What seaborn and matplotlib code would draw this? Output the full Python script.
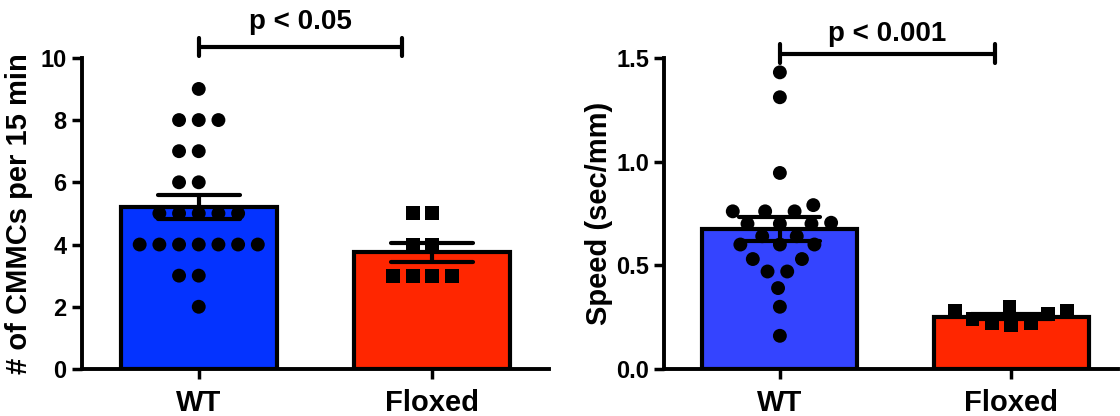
import numpy as np
import pandas as pd
import matplotlib
matplotlib.use('Agg')
import matplotlib.pyplot as plt
import seaborn as sns

# values
groups = ['WT', 'Floxed']
wt_cmmc = [9, 8, 8, 8, 7, 7, 6, 6, 5, 5, 5, 5, 5, 4, 4, 4, 4, 4, 4, 4, 3, 3, 2]
flox_cmmc = [5, 5, 4, 4, 3, 3, 3, 3]
wt_speed = [1.43, 1.31, 0.945, 0.79, 0.76, 0.76, 0.76, 0.705, 0.70, 0.70, 0.70,
            0.64, 0.64, 0.60, 0.60, 0.60, 0.53, 0.53, 0.47, 0.47, 0.39, 0.30, 0.16]
flox_speed = [0.30, 0.28, 0.28, 0.265, 0.24, 0.22, 0.22, 0.21]
p_labels = ['p < 0.05', 'p < 0.001']

sns.set_style('ticks', {'axes.edgecolor': 'black', 'xtick.color': 'black',
                        'ytick.color': 'black', 'text.color': 'black',
                        'axes.labelcolor': 'black'})
plt.rcParams['font.family'] = ['Liberation Sans', 'DejaVu Sans']
plt.rcParams['font.weight'] = 'bold'
plt.rcParams['axes.labelweight'] = 'bold'

df1 = pd.DataFrame({'group': ['WT'] * len(wt_cmmc) + ['Floxed'] * len(flox_cmmc),
                    'value': wt_cmmc + flox_cmmc})
df2 = pd.DataFrame({'group': ['WT'] * len(wt_speed) + ['Floxed'] * len(flox_speed),
                    'value': wt_speed + flox_speed})

fig = plt.figure(figsize=(11.2, 4.16), dpi=100)
ax1 = fig.add_axes([0.0732, 0.113, 0.417, 0.748])
ax2 = fig.add_axes([0.593, 0.113, 0.405, 0.748])

panels = [
    (ax1, df1, {'WT': '#0433FF', 'Floxed': '#FF2600'}, '# of CMMCs per 15 min',
     (0, 10), [0, 2, 4, 6, 8, 10], '{:.0f}', (-0.5, 1.5), 10.35, 0.3, 0.87, 11.15, p_labels[0]),
    (ax2, df2, {'WT': '#3444FF', 'Floxed': '#FF2600'}, 'Speed (sec/mm)',
     (0, 1.5), [0, 0.5, 1.0, 1.5], '{:.1f}', (-0.5, 1.46), 1.52, 0.045, 0.93, 1.615, p_labels[1]),
]

for ax, df, pal, ylab, ylim, yticks, fmt, xlim, by, bh, bx2, ty, ptxt in panels:
    sns.barplot(data=df, x='group', y='value', hue='group', order=groups, palette=pal,
                saturation=1, errorbar='se', capsize=0.35, width=0.67, edgecolor='black',
                linewidth=3, err_kws={'color': 'black', 'linewidth': 3}, legend=False,
                ax=ax, zorder=1)
    for g, m in zip(groups, ['o', 's']):
        sub = df[df['group'] == g]
        sns.swarmplot(data=sub, x='group', y='value', order=groups, color='black',
                      marker=m, size=10, linewidth=3.5, edgecolor='none', ax=ax, zorder=3)
    # bring error bars above the points
    for ln in ax.lines:
        ln.set_zorder(4)
    ax.set_xlim(*xlim)
    ax.set_ylim(*ylim)
    ax.set_yticks(yticks)
    ax.set_yticklabels([fmt.format(t) for t in yticks])
    ax.set_xlabel('')
    ax.set_ylabel(ylab, fontsize=21, fontweight='bold')
    ax.tick_params(axis='both', width=2.5, length=7.5, labelsize=17)
    ax.tick_params(axis='x', labelsize=21, pad=7)
    for lab in ax.get_xticklabels() + ax.get_yticklabels():
        lab.set_fontweight('bold')
    sns.despine(ax=ax)
    for s in ['left', 'bottom']:
        ax.spines[s].set_linewidth(2.8)
    # significance bracket
    ax.plot([0, bx2], [by, by], color='black', lw=3, clip_on=False)
    ax.plot([0, 0], [by - bh, by + bh], color='black', lw=3, clip_on=False)
    ax.plot([bx2, bx2], [by - bh, by + bh], color='black', lw=3, clip_on=False)
    ax.text(bx2 / 2, ty, ptxt, ha='center', va='center', fontsize=20, fontweight='bold',
            clip_on=False)

ax1.yaxis.set_label_coords(-0.105, 0.5)
ax2.yaxis.set_label_coords(-0.112, 0.5)

fig.savefig('out.png', dpi=100)
